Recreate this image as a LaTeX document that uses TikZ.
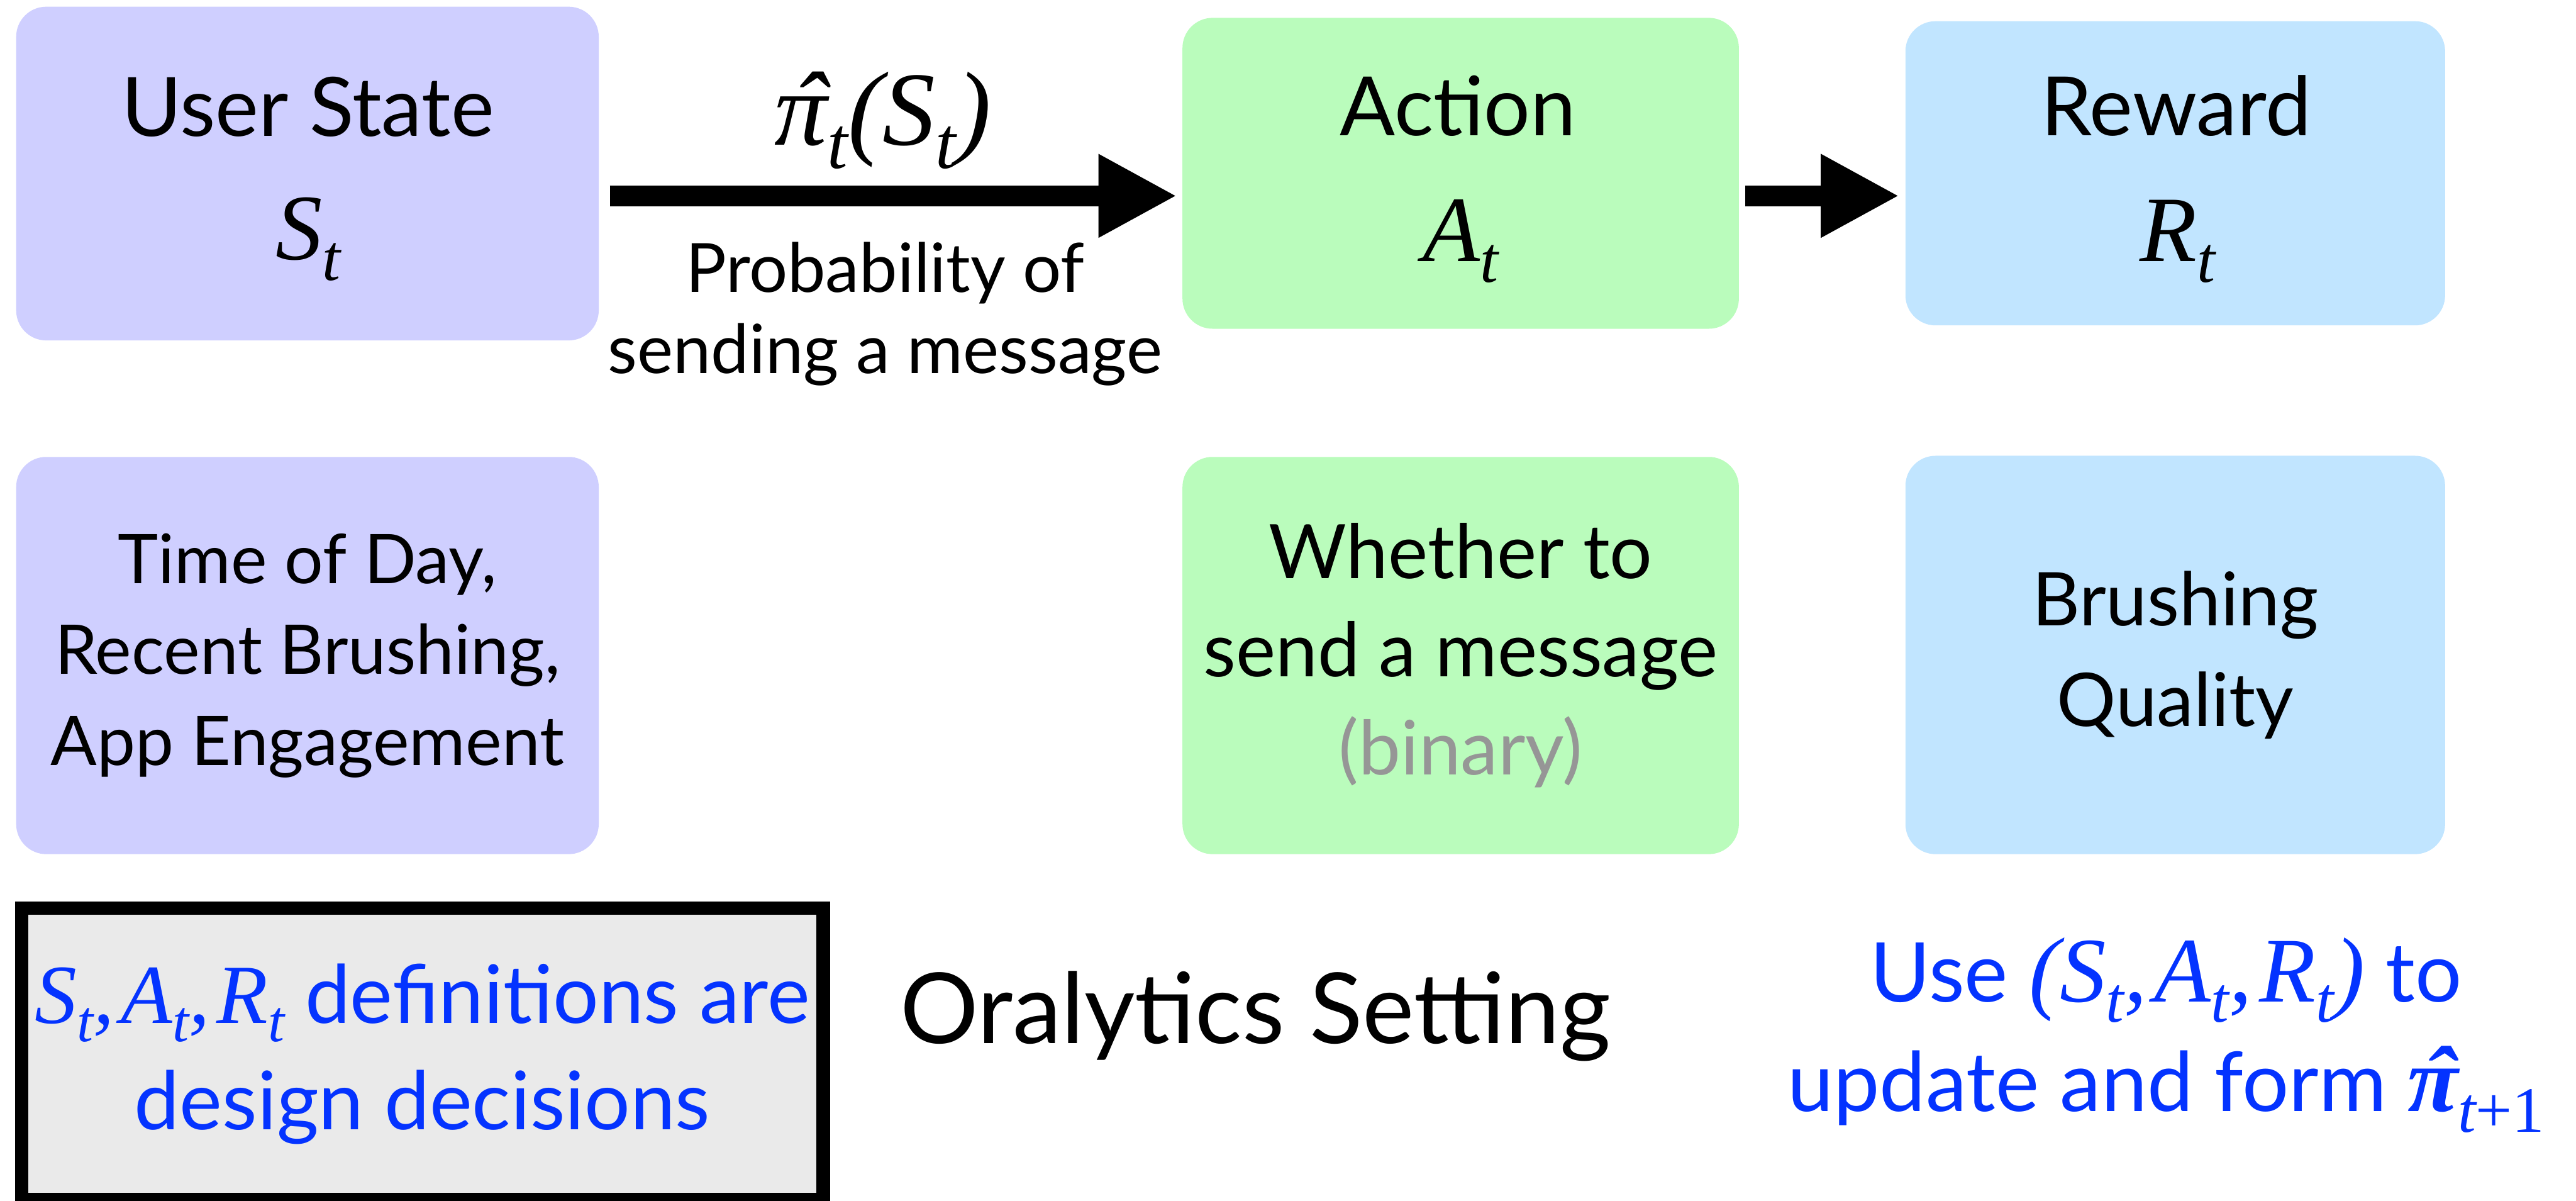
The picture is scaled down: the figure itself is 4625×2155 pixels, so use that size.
\documentclass[tikz,border=0pt]{standalone}
\usepackage{fontspec}
\setmainfont{Lato}
\newfontfamily\mathf{Liberation Serif}
\usetikzlibrary{arrows.meta}
\definecolor{purp}{RGB}{207,207,255}
\definecolor{grn}{RGB}{186,252,188}
\definecolor{blu}{RGB}{193,229,255}
\definecolor{txtblue}{RGB}{4,51,255}
\definecolor{gbox}{RGB}{234,234,234}
\definecolor{binary}{RGB}{150,150,150}
\newcommand\mi[2]{{\fontsize{#1}{#1}\selectfont\mathf\itshape #2}}
\newcommand\mbi[2]{{\fontsize{#1}{#1}\selectfont\mathf\bfseries\itshape #2}}
\newcommand\sbs[1]{\raisebox{-0.22em}{\scalebox{0.7}{\mathf\mdseries\itshape #1}}}
\newcommand\sbsp{\raisebox{-0.22em}{\scalebox{0.7}{\mathf\mdseries\itshape t\upshape +1}}}
\newcommand\cm{,\kern0.08em}
\newcommand\pihat{{\ooalign{\hfil\kern0.15em ˆ\hfil\cr π\cr}}}
\tikzset{
  box/.style={rounded corners=5.4pt, inner sep=0pt, align=center},
  hdr/.style={font=\fontsize{14.7}{17}\selectfont, inner sep=0pt, anchor=base},
  mth/.style={inner sep=0pt, anchor=base},
  lbl/.style={font=\fontsize{12.2}{14.5}\selectfont, inner sep=0pt, anchor=base, align=center},
  bigarrow/.style={line width=3.7pt, -{Triangle[length=14.1pt, width=14pt]}}
}
\begin{document}
\begin{tikzpicture}[x=0.1pt,y=-0.1pt]
\useasboundingbox (0,0) rectangle (4625,2155);
% boxes
\node[box, fill=purp, minimum width=104.6pt, minimum height=59.9pt] (us) at (552,311.5) {};
\node[box, fill=purp, minimum width=104.6pt, minimum height=71.3pt, font=\fontsize{12.3}{16.3}\selectfont] (usd) at (552,1176.5) {Time of Day,\\Recent Brushing,\\App Engagement};
\node[box, fill=grn, minimum width=99.9pt, minimum height=55.8pt] (ac) at (2622.5,311) {};
\node[box, fill=grn, minimum width=99.9pt, minimum height=71.3pt, font=\fontsize{13.5}{17.6}\selectfont] (acd) at (2622.5,1176.5) {Whether to\\send a message\\\textcolor{binary}{(binary)}};
\node[box, fill=blu, minimum width=96.9pt, minimum height=54.6pt] (rw) at (3905.5,311) {};
\node[box, fill=blu, minimum width=96.9pt, minimum height=71.5pt, font=\fontsize{13.3}{18.1}\selectfont] (rwd) at (3905.5,1175.5) {Brushing\\Quality};
% headers
\node[hdr] (usH) at (553,245) {User State};
\node[mth] (usS) at (553,466) {\mi{16.8}{S\sbs{t}}};
\node[hdr] (acH) at (2618,243) {Action};
\node[mth] (acA) at (2622,469) {\mi{16.8}{A\sbs{t}}};
\node[hdr] (rwH) at (3907,243) {Reward};
\node[mth] (rwR) at (3910,469) {\mi{16.8}{R\sbs{t}}};
% arrows
\coordinate (ay) at (0,351.5);
\draw[bigarrow, shorten <=1.8pt, shorten >=0.8pt] (us.east |- ay) -- (ac.west |- ay);
\draw[bigarrow, shorten <=0.9pt, shorten >=0.9pt] (ac.east |- ay) -- (rw.west |- ay);
\node[mth] (pol) at (1585,260) {\mi{18.9}{\pihat\sbs{t}(S\sbs{t})}};
\node[lbl] (polD) at (1589,670) {Probability of\\sending a message};
% bottom
\node[draw=black, line width=2.4pt, fill=gbox, minimum width=143.9pt, minimum height=52.3pt, inner sep=0pt, align=center, text=txtblue, font=\fontsize{14.5}{19.1}\selectfont] (note) at (758.5,1891.5) {\mi{15.1}{S\sbs{t}\cm A\sbs{t}\cm R\sbs{t}} definitions are\\design decisions};
\node[font=\fontsize{17.6}{20}\selectfont, anchor=base, inner sep=0pt] (title) at (2254,1873) {Oralytics Setting};
\node[align=center, text=txtblue, font=\fontsize{14.8}{19.7}\selectfont, anchor=base, inner sep=0pt] (upd) at (3889,1995) {Use \mi{16.6}{(S\sbs{t}\cm A\sbs{t}\cm R\sbs{t})} to\\update and form \mbi{16.6}{\pihat\sbsp}};
\end{tikzpicture}
\end{document}
